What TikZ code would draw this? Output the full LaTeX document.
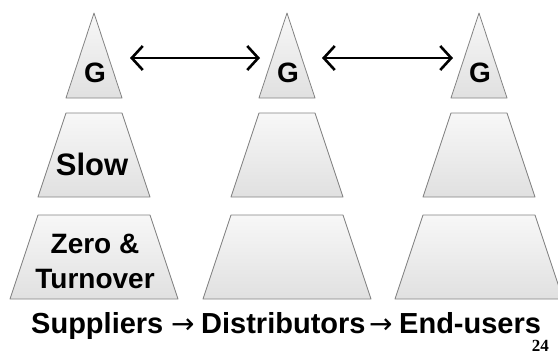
\documentclass[tikz,border=0pt]{standalone}
\usepackage{fontspec}
\setmainfont{Liberation Sans}
\newfontfamily\pagenumfont{Liberation Serif}
\newfontfamily\arrowfont{DejaVu Sans}
\usetikzlibrary{arrows.meta}
\tikzset{
  tierfill/.style={draw=gray!70!black!75, line width=0.8pt, line join=round,
    top color=white!97!black, bottom color=white!88!black},
  tierlabel/.style={font=\bfseries\fontsize{#1}{35}\selectfont, inner sep=0pt, align=center},
  flowlabel/.style={font=\bfseries\fontsize{29}{32}\selectfont, inner sep=0pt, anchor=base west},
  flowarrow/.style={font=\arrowfont\fontsize{28}{32}\selectfont, inner sep=0pt, anchor=base west},
  linkarrow/.style={line width=2.6pt, {Straight Barb[length=11pt,width=24pt]}-{Straight Barb[length=11pt,width=24pt]}}
}
% one stack: top triangle, middle and bottom trapezoids around centre x
\newcommand\stackat[1]{%
  \path[tierfill] (#1,13) -- (#1+28,98) -- (#1-28,98) -- cycle;
  \path[tierfill] (#1-28,113) -- (#1+28,113) -- (#1+56,197) -- (#1-56,197) -- cycle;
  \path[tierfill] (#1-56,215) -- (#1+56,215) -- (#1+84,299) -- (#1-84,299) -- cycle;
}
\begin{document}
\begin{tikzpicture}[x=1pt,y=-1pt]
\useasboundingbox[fill=white] (0,0) rectangle (558,354);
\stackat{94}
\stackat{287}
\stackat{479}
% tier labels
\node[tierlabel=28] (g1) at (95,73) {G};
\node[tierlabel=28] (g2) at (288,73) {G};
\node[tierlabel=28] (g3) at (480,73) {G};
\node[tierlabel=31] (slow) at (92,164) {Slow};
\node[tierlabel=28] (zero) at (95,261) {Zero \&\\Turnover};
% links between the top tiers
\coordinate (l1) at (130,58);
\coordinate (r1) at (260,58);
\coordinate (l2) at (322,58);
\coordinate (r2) at (453,58);
\draw[linkarrow] (l1) -- (r1);
\draw[linkarrow] (l2) -- (r2);
% supply chain caption
\node[flowlabel] (sup) at (31,333) {Suppliers};
\node[flowarrow] (a1) at (171,333) {→};
\node[flowlabel] (dis) at (201,333) {Distributors};
\node[flowarrow] (a2) at (369,333) {→};
\node[flowlabel] (end) at (399,333) {End-users};
\node[font=\pagenumfont\bfseries\fontsize{17}{18}\selectfont, inner sep=0pt, anchor=base east] (pg) at (549,351) {24};
\end{tikzpicture}
\end{document}
